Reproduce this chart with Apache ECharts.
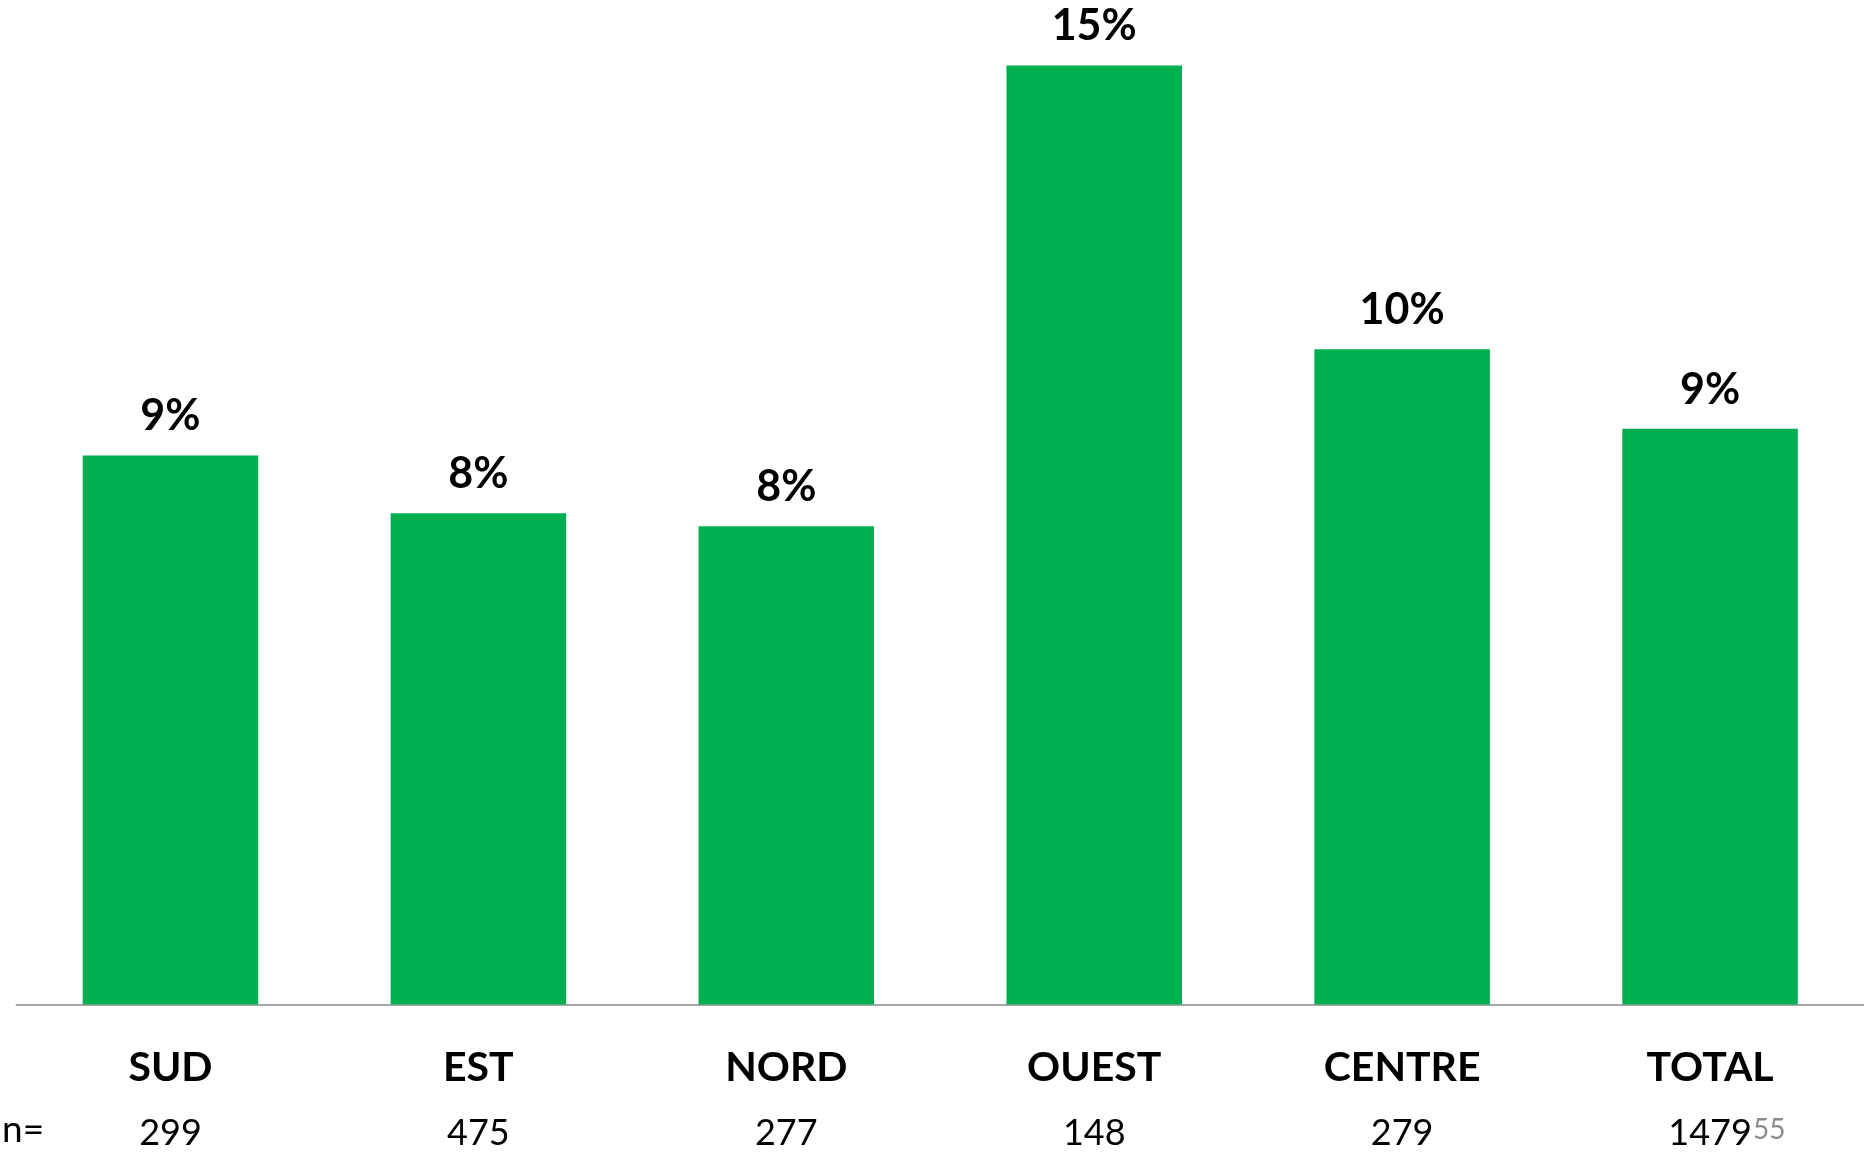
<!DOCTYPE html>
<html>
<head>
<meta charset="utf-8">
<script src="https://cdn.jsdelivr.net/npm/echarts@6/dist/echarts.min.js"></script>
<style>
  html, body { margin: 0; padding: 0; background: #ffffff; }
  #chart { width: 1864px; height: 1153px; }
</style>
</head>
<body>
<div id="chart"></div>
<script>
// Regions, share (%) and sample sizes
const regions = ['SUD', 'EST', 'NORD', 'OUEST', 'CENTRE', 'TOTAL'];
const shares = [8.77, 7.85, 7.64, 15.0, 10.47, 9.2];
const sampleSizes = [299, 475, 277, 148, 279, 1479];
const pageNumber = '55';

const FONT = 'Lato, "Open Sans", sans-serif';
const chart = echarts.init(document.getElementById('chart'));

chart.setOption({
  animation: false,
  backgroundColor: '#ffffff',
  grid: { left: 16.5, top: 3, width: 1851, bottom: 148.5, containLabel: false },
  xAxis: {
    type: 'category',
    data: regions,
    axisLine: { show: true, lineStyle: { color: '#a6a6a6', width: 2 } },
    axisTick: { show: false },
    axisLabel: {
      interval: 0,
      margin: 30,
      formatter: (v, i) => '{c|' + v + '}\n{n|' + sampleSizes[i] + '}',
      rich: {
        c: { fontFamily: FONT, fontWeight: 'bold', fontSize: 41, color: '#000', lineHeight: 66 },
        n: { fontFamily: FONT, fontSize: 36, color: '#000', lineHeight: 66 }
      }
    }
  },
  yAxis: {
    type: 'value',
    min: 0,
    max: 16,
    show: false,
    splitLine: { show: false }
  },
  series: [{
    type: 'bar',
    data: shares,
    barWidth: '57%',
    itemStyle: { color: '#00b050' },
    label: {
      show: true,
      position: 'top',
      distance: 18,
      lineHeight: 42,
      fontFamily: FONT,
      fontWeight: 'bold',
      fontSize: 43,
      color: '#000',
      formatter: p => Math.round(p.value) + '%'
    }
  }],
  graphic: [
    {
      type: 'text', left: 2, top: 1112,
      style: { text: 'n=', fontFamily: FONT, fontSize: 37, fill: '#000' }
    },
    {
      type: 'text', left: 1753, top: 1116,
      style: { text: pageNumber, fontFamily: FONT, fontSize: 28, fill: '#8c8c8c' }
    }
  ]
});
</script>
</body>
</html>
